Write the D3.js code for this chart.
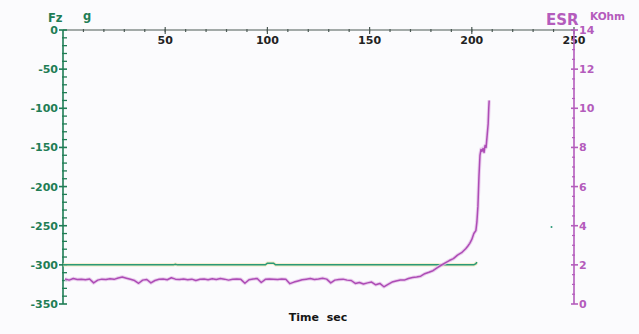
<!DOCTYPE html>
<html>
<head>
<meta charset="utf-8">
<script src="https://cdn.jsdelivr.net/npm/d3@7"></script>
<style>
  html, body { margin: 0; padding: 0; background: #fbfbfd; }
  svg { display: block; font-family: "DejaVu Sans", Verdana, sans-serif; }
</style>
</head>
<body>
<svg id="chart" width="639" height="334"></svg>
<script>
// Time axis (seconds)
const timeTicks = [50, 100, 150, 200, 250];
// Fz force (g), left axis
const fzTicks = [0, -50, -100, -150, -200, -250, -300, -350];
// ESR (KOhm), right axis
const esrTicks = [0, 2, 4, 6, 8, 10, 12, 14];

// Fz trace: time (s) and force (g)
const fzTime  = [0, 20, 54, 55, 56, 80, 99, 100, 102, 103, 104, 130, 160, 190, 201, 202, 202.5];
const fzValue = [-300, -300, -300, -299.2, -300, -300, -300, -297.8, -297.8, -297.8, -300, -300, -300, -300, -300, -298.6, -296.5];
// isolated Fz sample
const fzStrayTime = [239];
const fzStrayValue = [-251.5];

// ESR trace: time (s) and resistance (KOhm)
const esrTime = [
  1, 3, 5, 7, 9, 11, 13, 15, 17, 19, 21, 23, 25, 27, 29, 31, 33, 35, 37, 39,
  41, 43, 45, 47, 49, 51, 53, 55, 57, 59, 61, 63, 65, 67, 69, 71, 73, 75, 77, 79,
  81, 83, 85, 87, 89, 91, 93, 95, 97, 99, 101, 103, 105, 107, 109, 111, 113, 115, 117, 119,
  121, 123, 125, 127, 129, 131, 133, 135, 137, 139, 141, 143, 145, 147, 149, 151, 153, 155, 157, 159,
  161, 163, 165, 167, 169, 171, 173, 175, 177, 179, 181, 183, 185, 187, 189, 191, 193, 195, 196, 197,
  198, 199, 200, 201, 202, 202.5, 203, 203.5, 204, 204.5, 205, 205.5, 206, 206.5, 207, 207.5, 208, 208.3, 208.5
];
const esrValue = [
  1.28, 1.22, 1.30, 1.25, 1.27, 1.24, 1.28, 1.08, 1.22, 1.27, 1.25, 1.29, 1.26, 1.33, 1.38, 1.32, 1.26, 1.20, 1.06, 1.22,
  1.25, 1.08, 1.20, 1.26, 1.28, 1.24, 1.34, 1.27, 1.25, 1.28, 1.24, 1.27, 1.20, 1.26, 1.28, 1.24, 1.29, 1.25, 1.30, 1.27,
  1.22, 1.26, 1.28, 1.26, 1.06, 1.24, 1.28, 1.30, 1.10, 1.26, 1.28, 1.27, 1.25, 1.28, 1.26, 1.04, 1.12, 1.18, 1.24, 1.27,
  1.30, 1.25, 1.28, 1.32, 1.27, 1.08, 1.22, 1.25, 1.27, 1.22, 1.20, 1.05, 1.10, 1.02, 1.08, 1.12, 0.98, 1.05, 0.88, 1.00,
  1.12, 1.18, 1.23, 1.22, 1.30, 1.35, 1.38, 1.42, 1.55, 1.62, 1.70, 1.85, 1.98, 2.10, 2.22, 2.32, 2.50, 2.62, 2.72, 2.82,
  2.95, 3.10, 3.30, 3.60, 3.75, 4.20, 5.00, 6.50, 7.60, 7.90, 7.80, 7.95, 7.75, 8.10, 8.00, 8.60, 9.20, 10.0, 10.4
];

const svg = d3.select("#chart");
const W = 639, H = 334;
svg.append("rect").attr("width", W).attr("height", H).attr("fill", "#fbfbfd");

const x  = d3.scaleLinear().domain([0, 250]).range([63, 574]);
const yL = d3.scaleLinear().domain([-350, 0]).range([304, 30]);
const yR = d3.scaleLinear().domain([0, 14]).range([304, 30]);

const green = "#1f7d55";
const purple = "#b45cbc";
const labelFont = "bold 11px 'DejaVu Sans', Verdana, sans-serif";

// ---- top time axis (zero-force line) ----
const topAxis = svg.append("g").attr("transform", `translate(0,${yL(0)})`);
topAxis.append("line").attr("x1", x(0)).attr("x2", x(250)).attr("y1", 0).attr("y2", 0)
  .attr("stroke", "#4d5a55").attr("stroke-width", 1.2);
topAxis.selectAll("line.minor").data(d3.range(10, 250, 10))
  .join("line").attr("class", "minor")
  .attr("x1", d => x(d)).attr("x2", d => x(d)).attr("y1", -1).attr("y2", 2)
  .attr("stroke", "#4d5a55").attr("stroke-width", 1.2);
topAxis.selectAll("line.major").data(timeTicks)
  .join("line").attr("class", "major")
  .attr("x1", d => x(d)).attr("x2", d => x(d)).attr("y1", -3).attr("y2", 4)
  .attr("stroke", "#4d5a55").attr("stroke-width", 1.2);
topAxis.selectAll("text").data(timeTicks)
  .join("text")
  .attr("x", d => x(d)).attr("y", 14)
  .attr("text-anchor", "middle")
  .style("font", labelFont).attr("fill", "#222")
  .text(d => d);

// ---- left Fz axis ----
const leftAxis = svg.append("g").attr("transform", `translate(${x(0)},0)`);
leftAxis.append("line").attr("x1", 0).attr("x2", 0).attr("y1", yL(0)).attr("y2", yL(-350))
  .attr("stroke", green).attr("stroke-width", 1.6);
leftAxis.selectAll("line.minor").data(d3.range(-340, 0, 10).filter(d => d % 50 !== 0))
  .join("line").attr("class", "minor")
  .attr("x1", -1).attr("x2", 4).attr("y1", d => yL(d)).attr("y2", d => yL(d))
  .attr("stroke", green).attr("stroke-width", 1.3);
leftAxis.selectAll("line.major").data(fzTicks)
  .join("line").attr("class", "major")
  .attr("x1", -4).attr("x2", 4).attr("y1", d => yL(d)).attr("y2", d => yL(d))
  .attr("stroke", green).attr("stroke-width", 1.6);
leftAxis.selectAll("text").data(fzTicks)
  .join("text")
  .attr("x", -5).attr("y", d => yL(d) + 4)
  .attr("text-anchor", "end")
  .style("font", labelFont).attr("fill", green)
  .text(d => d);

// ---- right ESR axis ----
const rightAxis = svg.append("g").attr("transform", `translate(${x(250)},0)`);
rightAxis.append("line").attr("x1", 0).attr("x2", 0).attr("y1", yR(14)).attr("y2", yR(0))
  .attr("stroke", purple).attr("stroke-width", 1.6);
rightAxis.selectAll("line.minor").data(d3.range(0.5, 14, 0.5).filter(d => d % 2 !== 0))
  .join("line").attr("class", "minor")
  .attr("x1", -2).attr("x2", 1).attr("y1", d => yR(d)).attr("y2", d => yR(d))
  .attr("stroke", purple).attr("stroke-width", 1.2);
rightAxis.selectAll("line.major").data(esrTicks)
  .join("line").attr("class", "major")
  .attr("x1", -3).attr("x2", 4).attr("y1", d => yR(d)).attr("y2", d => yR(d))
  .attr("stroke", purple).attr("stroke-width", 1.6);
rightAxis.selectAll("text").data(esrTicks)
  .join("text")
  .attr("x", 5).attr("y", d => yR(d) + 4)
  .attr("text-anchor", "start")
  .style("font", labelFont).attr("fill", purple)
  .text(d => d);

// ---- axis titles ----
svg.append("text").attr("x", 48).attr("y", 22)
  .style("font", "bold 11.5px 'DejaVu Sans', Verdana, sans-serif").attr("fill", green).text("Fz");
svg.append("text").attr("x", 83).attr("y", 20)
  .style("font", "bold 11.5px 'DejaVu Sans', Verdana, sans-serif").attr("fill", green).text("g");
svg.append("text").attr("x", 546).attr("y", 25)
  .style("font", "bold 15px 'DejaVu Sans', Verdana, sans-serif").attr("fill", purple).text("ESR");
svg.append("text").attr("x", 590).attr("y", 20)
  .style("font", "bold 10.5px 'DejaVu Sans', Verdana, sans-serif").attr("fill", purple).text("KOhm");
svg.append("text").attr("x", 318).attr("y", 321).attr("text-anchor", "middle")
  .style("font", "bold 11px 'DejaVu Sans', Verdana, sans-serif").attr("fill", "#151515")
  .attr("xml:space", "preserve").style("white-space", "pre")
  .text("Time  sec");

// ---- traces ----
const fzData = fzTime.map((t, i) => [t, fzValue[i]]);
const esrData = esrTime.map((t, i) => [t, esrValue[i]]);

const fzLine = d3.line().x(d => x(d[0])).y(d => yL(d[1]));
const esrLine = d3.line().x(d => x(d[0])).y(d => yR(d[1]));

svg.append("path").datum(fzData).attr("d", fzLine)
  .attr("fill", "none").attr("stroke", "#f0e2a8").attr("stroke-width", 3.2).attr("opacity", 0.7);
svg.append("path").datum(fzData).attr("d", fzLine)
  .attr("fill", "none").attr("stroke", "#2a9a78").attr("stroke-width", 1.5);

svg.selectAll("circle.stray").data(fzStrayTime.map((t, i) => [t, fzStrayValue[i]]))
  .join("circle").attr("class", "stray")
  .attr("cx", d => x(d[0])).attr("cy", d => yL(d[1])).attr("r", 1)
  .attr("fill", "#2a9a78");

svg.append("path").datum(esrData).attr("d", esrLine)
  .attr("fill", "none").attr("stroke", "#e6c2ea").attr("stroke-width", 3.5)
  .attr("stroke-linejoin", "round").attr("opacity", 0.8);
svg.append("path").datum(esrData).attr("d", esrLine)
  .attr("fill", "none").attr("stroke", "#ad4cb5").attr("stroke-width", 1.5)
  .attr("stroke-linejoin", "round");
</script>
</body>
</html>
